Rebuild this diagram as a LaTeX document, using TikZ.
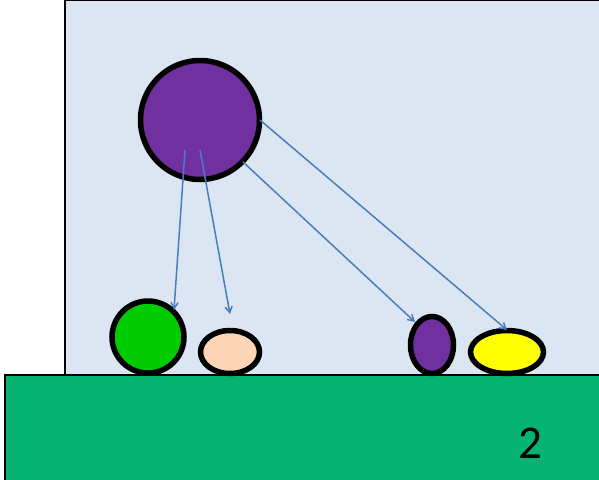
\documentclass[tikz,border=0pt]{standalone}
\usepackage{fontspec}
\setmainfont{Carlito}
\usetikzlibrary{arrows.meta,shapes.geometric}
\definecolor{skyfill}{RGB}{220,230,242}
\definecolor{groundfill}{RGB}{5,180,115}
\definecolor{purp}{RGB}{112,48,160}
\definecolor{grn}{RGB}{0,204,0}
\definecolor{peach}{RGB}{252,213,180}
\definecolor{yel}{RGB}{255,255,0}
\definecolor{arrowblue}{RGB}{74,126,187}
\tikzset{
  ball/.style={draw=black, line width=5.5pt, ellipse, inner sep=0pt},
  link/.style={draw=arrowblue, line width=1.5pt, -{Straight Barb[length=6pt,width=7pt]}},
}
\begin{document}
\begin{tikzpicture}[x=1pt,y=-1pt]
\useasboundingbox (0,0) rectangle (599,479);
\begin{scope}
\clip (0,0) rectangle (599,479);
\draw[fill=skyfill, line width=1.5pt] (65,0.5) rectangle (610,375);
\draw[fill=groundfill, line width=1.5pt] (5,375) rectangle (610,490);
\end{scope}
\node[ball, fill=purp, minimum width=119pt, minimum height=119pt] (big) at (200,120) {};
\node[ball, fill=grn, minimum width=72pt, minimum height=72pt] (green) at (148,337) {};
\node[ball, fill=peach, minimum width=59pt, minimum height=43pt] (peach) at (230,352) {};
\node[ball, fill=purp, minimum width=43pt, minimum height=57pt] (small) at (432,345) {};
\node[ball, fill=yel, minimum width=73pt, minimum height=43pt] (yellow) at (507,352) {};
\node[font=\fontsize{47}{47}\selectfont] (num) at (530,443) {2};
\coordinate (s1) at (185,150);
\coordinate (s2) at (200,150);
\coordinate (s3) at (243,162);
\coordinate (s4) at (260,120);
\coordinate (e1) at (174,310);
\coordinate (e2) at (230,314);
\coordinate (e3) at (415,322);
\coordinate (e4) at (507,330);
\draw[link] (s1) -- (e1);
\draw[link] (s2) -- (e2);
\draw[link] (s3) -- (e3);
\draw[link] (s4) -- (e4);
\end{tikzpicture}
\end{document}
